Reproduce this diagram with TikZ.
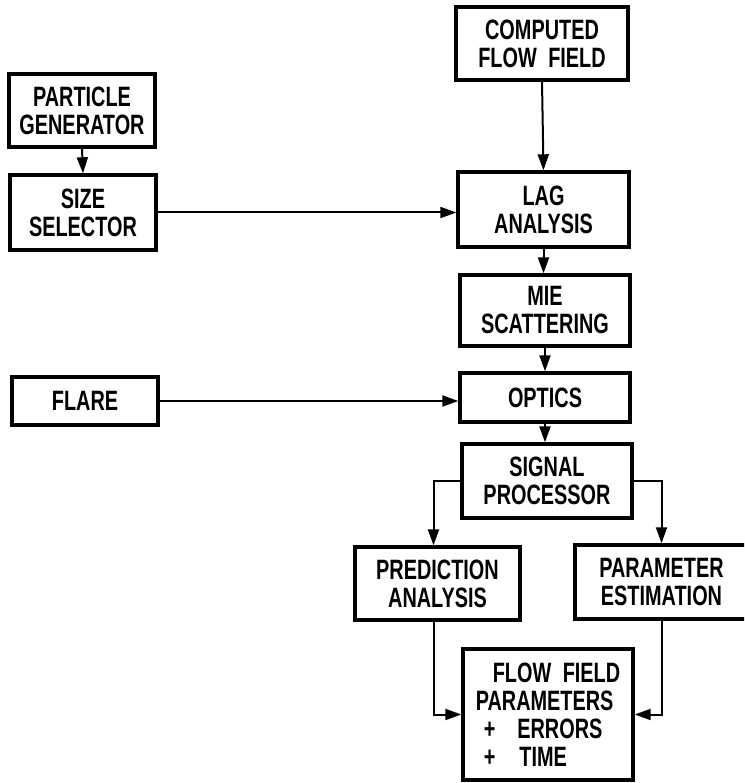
\documentclass[tikz,border=0pt]{standalone}
\usepackage{fontspec}
\setmainfont{Liberation Sans}[FakeStretch=0.71]
\usetikzlibrary{arrows.meta}
\begin{document}
\begin{tikzpicture}[x=1pt,y=-1pt,
  box/.style={draw, line width=3.4pt, rectangle, inner sep=0pt, align=center,
    font=\fontsize{28}{28}\selectfont\bfseries},
  conn/.style={line width=2pt, -{Triangle[length=16pt,width=11pt]}}]
\clip (0,0) rectangle (744,783);
\fill[white] (0,0) rectangle (744,783);
\node[box, minimum width=172pt, minimum height=73pt] (comp) at (542,43.5) {COMPUTED\\FLOW\hspace{6pt} FIELD};
\node[box, minimum width=146pt, minimum height=73pt] (pg) at (82,110.5) {PARTICLE\\GENERATOR};
\node[box, minimum width=146pt, minimum height=75pt] (ss) at (83,212.5) {SIZE\\SELECTOR};
\node[box, minimum width=171pt, minimum height=75pt] (lag) at (543.5,209.5) {LAG\\ANALYSIS};
\node[box, minimum width=170pt, minimum height=71pt] (mie) at (545,310.5) {MIE\\SCATTERING};
\node[box, minimum width=146pt, minimum height=48pt] (flare) at (85,401) {FLARE};
\node[box, minimum width=170pt, minimum height=49pt] (opt) at (545,397.5) {OPTICS};
\node[box, minimum width=170pt, minimum height=74pt] (sig) at (547,481) {SIGNAL\\PROCESSOR};
\node[box, minimum width=165pt, minimum height=73pt] (pred) at (437.5,583.5) {PREDICTION\\ANALYSIS};
\node[box, minimum width=173pt, minimum height=74pt] (par) at (661.5,582) {PARAMETER\\ESTIMATION};
\node[box, minimum width=170pt, minimum height=131pt, align=left] (ffp) at (548,714.5)
  {\hspace{17pt}FLOW\hspace{6pt} FIELD\\PARAMETERS\\\hspace{8pt}+\hspace{22pt}ERRORS\\\hspace{8pt}+\hspace{24pt}TIME};
\draw[conn] (pg.south) -- (ss.north);
\draw[conn] (comp.south) -- (lag.north);
\draw[conn] (ss.east) -- (ss.east -| lag.west);
\draw[conn] (lag.south) -- (lag.south |- mie.north);
\draw[conn] (mie.south) -- (mie.south |- opt.north);
\draw[conn] (flare.east) -- (flare.east -| opt.west);
\draw[conn] (opt.south) -- (opt.south |- sig.north);
\draw[conn] (sig.west) -| ([xshift=-4pt]pred.north);
\draw[conn] (sig.east) -| (par.north);
\draw[conn] ([xshift=-4pt]pred.south) |- (ffp.west);
\draw[conn] (par.south) |- (ffp.east);
\end{tikzpicture}
\end{document}
